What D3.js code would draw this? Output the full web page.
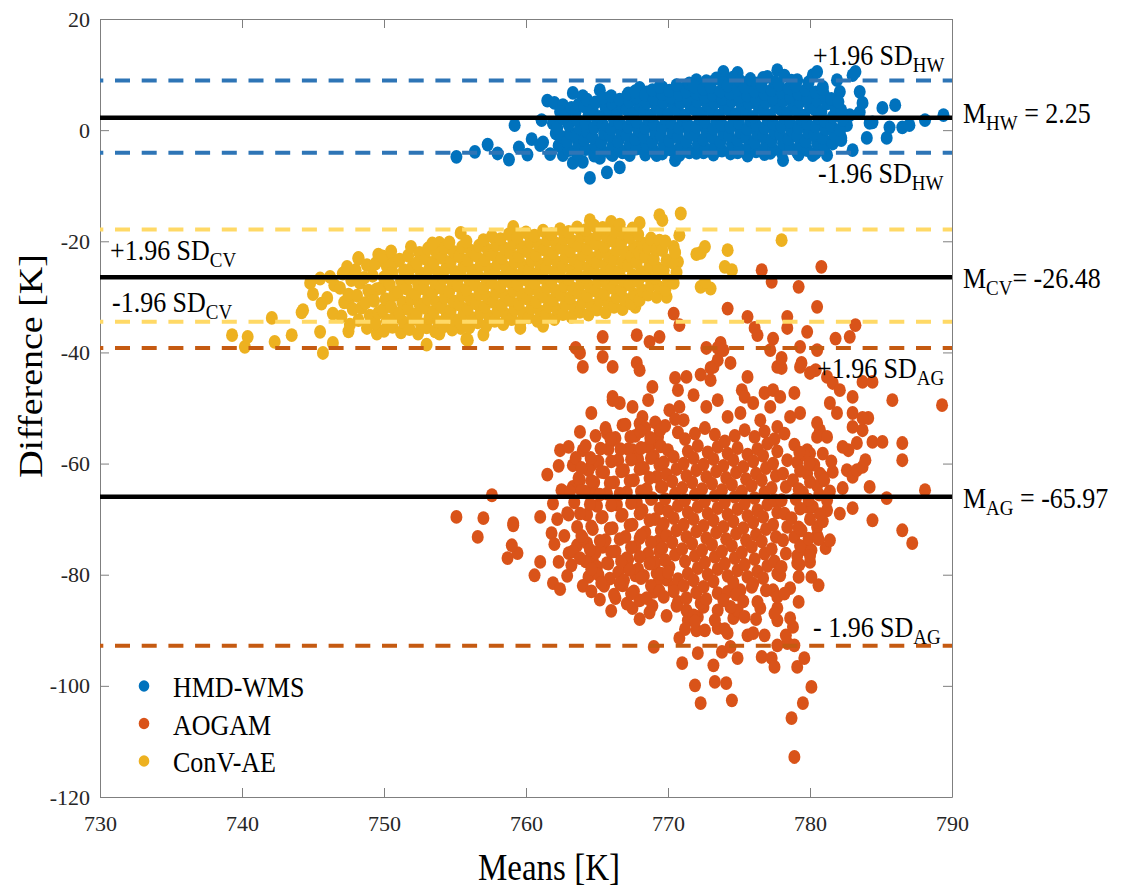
<!DOCTYPE html>
<html>
<head>
<meta charset="utf-8">
<script src="https://cdn.jsdelivr.net/npm/d3@7"></script>
<style>
body { margin: 0; background: #fff; }
</style>
</head>
<body>
<div id="chart"></div>
<script>
// tick values
var xTicks = [730, 740, 750, 760, 770, 780, 790];
var yTicks = [20, 0, -20, -40, -60, -80, -100, -120];

// series, in legend order
var seriesNames = ["HMD-WMS", "AOGAM", "ConV-AE"];
var meanValues = [2.25, -65.97, -26.48];
var upperValues = [8.95, -39.2, -17.9];
var lowerValues = [-4.05, -92.8, -34.5];
var meanLabels = [["M", "HW", " = 2.25"], ["M", "AG", " = -65.97"], ["M", "CV", "= -26.48"]];

// [mean, difference]
var hmdPoints = [
  [755.1,-4.8],[756.4,-3.9],[757.3,-2.6],[758.0,-4.2],[758.8,-5.3],[759.5,-3.1],[759.2,0.9],[760.4,-1.6],[760.1,-4.4],
  [761.1,1.8],[761.0,-2.7],[761.7,-4.3],[761.5,5.3],[762.0,4.9],[762.6,4.5],[763.3,6.7],[764.0,6.1],[765.2,7.2],
  [765.9,5.9],[767.1,6.1],[768.0,7.6],[768.5,6.8],[769.6,7.7],[770.6,7.6],[771.3,7.8],[772.0,9.0],[773.0,8.6],
  [773.9,10.5],[774.4,9.1],[774.9,10.3],[775.8,8.6],[776.7,9.4],[777.7,10.8],[779.1,9.0],[780.2,9.9],[780.5,10.5],
  [780.9,7.8],[781.9,9.0],[782.1,6.9],[783.0,9.9],[783.2,10.5],[783.5,6.9],[783.7,4.9],[783.5,3.2],[782.8,2.7],
  [782.6,0.9],[784.2,1.3],[784.4,1.4],[785.1,4.0],[786.0,4.5],[785.6,0.5],[786.5,0.5],[787.0,0.9],[788.1,1.8],
  [789.4,2.7],[785.4,-1.4],[784.0,-1.4],[782.2,-1.4],[782.1,-0.3],[781.4,5.0],[781.4,-2.2],[781.2,-4.5],[783.0,-3.6],
  [780.2,-4.5],[779.1,-4.0],[778.1,-5.4],[777.2,-4.1],[776.3,-3.6],[774.9,-4.0],[773.7,-3.6],[772.5,-4.0],[771.5,-4.0],
  [770.5,-5.4],[769.2,-4.5],[768.0,-3.2],[767.3,-4.5],[766.8,-4.0],[766.6,-6.7],[766.1,-4.5],[765.7,-7.6],[765.2,-5.0],
  [764.5,-8.6],[764.0,-5.7],[763.3,-5.9],[762.6,-4.5],[761.2,-2.2],[762.1,-0.6],[761.9,1.2],
  [762.3,-2.8],[762.5,-1.2],[762.2,0.4],[762.6,2.1],[762.4,3.3],
  [763.0,-3.6],[762.9,-2.0],[763.1,-0.5],[763.0,1.0],[762.8,2.6],[763.2,4.0],
  [763.6,-4.2],[763.7,-2.6],[763.5,-1.1],[763.8,0.3],[763.6,1.8],[763.5,3.4],[763.7,4.6],
  [764.2,-3.4],[764.1,-1.8],[764.3,-0.2],[764.2,1.3],[764.4,2.7],[764.1,4.3],[764.3,5.5],
  [764.8,-4.6],[764.9,-2.9],[764.7,-1.3],[764.8,0.5],[765.0,2.0],[764.7,3.6],[764.9,5.0],
  [765.4,-3.8],[765.3,-2.2],[765.5,-0.6],[765.4,1.1],[765.2,2.4],[765.6,4.1],[765.4,5.8],
  [766.0,-4.3],[766.1,-2.7],[765.9,-1.0],[766.0,0.2],[766.2,1.8],[765.9,3.2],[766.1,4.7],[766.0,6.1],
  [766.6,-3.6],[766.5,-2.0],[766.7,-0.4],[766.6,1.2],[766.4,2.8],[766.8,4.2],[766.6,5.5],
  [767.2,-4.1],[767.3,-2.5],[767.1,-0.9],[767.2,0.6],[767.4,2.1],[767.1,3.7],[767.3,5.1],[767.2,6.6],
  [767.8,-3.3],[767.7,-1.6],[767.9,0.0],[767.8,1.5],[767.6,3.0],[768.0,4.5],[767.8,5.9],[767.7,7.0],
  [768.4,-4.4],[768.5,-2.8],[768.3,-1.2],[768.4,0.4],[768.6,1.9],[768.3,3.4],[768.5,4.9],[768.4,6.3],
  [769.0,-3.7],[768.9,-2.1],[769.1,-0.5],[769.0,1.1],[768.8,2.6],[769.2,4.1],[769.0,5.6],[768.9,7.2],
  [769.6,-4.2],[769.7,-2.6],[769.5,-1.0],[769.6,0.5],[769.8,2.0],[769.5,3.5],[769.7,5.0],[769.6,6.5],[769.4,7.8],
  [770.2,-3.5],[770.1,-1.9],[770.3,-0.3],[770.2,1.3],[770.0,2.8],[770.4,4.4],[770.2,5.8],[770.1,7.1],
  [770.8,-4.5],[770.9,-2.8],[770.7,-1.2],[770.8,0.4],[771.0,1.9],[770.7,3.5],[770.9,5.0],[770.8,6.4],[770.6,8.1],
  [771.4,-3.6],[771.3,-2.0],[771.5,-0.5],[771.4,1.0],[771.2,2.6],[771.6,4.1],[771.4,5.5],[771.3,7.0],[771.5,8.4],
  [772.0,-4.1],[772.1,-2.5],[771.9,-0.9],[772.0,0.6],[772.2,2.2],[771.9,3.7],[772.1,5.2],[772.0,6.6],[771.8,7.9],
  [772.6,-3.3],[772.5,-1.7],[772.7,-0.1],[772.6,1.5],[772.4,3.0],[772.8,4.5],[772.6,6.0],[772.5,7.4],[772.7,8.8],
  [773.2,-4.4],[773.3,-2.8],[773.1,-1.2],[773.2,0.3],[773.4,1.9],[773.1,3.4],[773.3,4.9],[773.2,6.3],[773.0,7.8],[773.4,9.3],
  [773.8,-3.7],[773.7,-2.1],[773.9,-0.6],[773.8,1.0],[773.6,2.6],[774.0,4.1],[773.8,5.6],[773.7,7.0],[773.9,8.5],
  [774.4,-4.2],[774.5,-2.5],[774.3,-1.0],[774.4,0.6],[774.6,2.1],[774.3,3.6],[774.5,5.2],[774.4,6.6],[774.2,8.0],[774.6,9.5],
  [775.0,-3.4],[774.9,-1.8],[775.1,-0.3],[775.0,1.3],[774.8,2.9],[775.2,4.4],[775.0,5.9],[774.9,7.3],[775.1,8.8],
  [775.6,-4.6],[775.7,-2.9],[775.5,-1.3],[775.6,0.2],[775.8,1.8],[775.5,3.3],[775.7,4.8],[775.6,6.2],[775.4,7.7],[775.8,9.2],
  [776.2,-3.8],[776.1,-2.2],[776.3,-0.7],[776.2,0.9],[776.0,2.4],[776.4,4.0],[776.2,5.5],[776.1,7.0],[776.3,8.4],
  [776.8,-4.3],[776.9,-2.7],[776.7,-1.1],[776.8,0.4],[777.0,2.0],[776.7,3.5],[776.9,5.0],[776.8,6.5],[776.6,7.9],[777.0,9.6],
  [777.4,-3.5],[777.3,-1.9],[777.5,-0.4],[777.4,1.2],[777.2,2.7],[777.6,4.3],[777.4,5.7],[777.3,7.2],[777.5,8.7],
  [778.0,-4.0],[778.1,-2.4],[777.9,-0.8],[778.0,0.7],[778.2,2.3],[777.9,3.8],[778.1,5.3],[778.0,6.8],[777.8,8.2],[778.2,9.8],
  [778.6,-3.2],[778.5,-1.6],[778.7,0.0],[778.6,1.5],[778.4,3.1],[778.8,4.6],[778.6,6.0],[778.5,7.5],[778.7,8.9],
  [779.2,-4.4],[779.3,-2.7],[779.1,-1.1],[779.2,0.4],[779.4,2.0],[779.1,3.5],[779.3,5.1],[779.2,6.5],[779.0,8.0],
  [779.8,-3.6],[779.7,-2.0],[779.9,-0.5],[779.8,1.1],[779.6,2.6],[780.0,4.2],[779.8,5.7],[779.7,7.2],[779.9,8.6],
  [780.4,-4.1],[780.5,-2.4],[780.3,-0.9],[780.4,0.7],[780.6,2.2],[780.3,3.8],[780.5,5.3],[780.4,6.8],
  [781.0,-3.0],[780.9,-1.4],[781.1,0.2],[781.0,1.7],[780.8,3.3],[781.2,4.8],[781.0,6.3],[780.9,7.4],
  [781.6,-2.4],[781.7,-0.8],[781.5,0.8],[781.6,2.4],[781.8,3.9],[781.5,5.6],
  [782.2,-1.8],[782.1,0.1],[782.3,1.9],[782.2,3.6],[782.0,5.1]
];

var aogamPoints = [
  [776.6,-25.2],[777.3,-27.3],[780.8,-24.6],[779.2,-28.2],[774.2,-32.1],[780.5,-31.8],[770.4,-33.0],[770.8,-35.1],
  [775.6,-33.6],[776.1,-35.6],[778.4,-33.6],[778.4,-35.6],[779.8,-36.3],[781.8,-37.5],[783.2,-35.1],[782.8,-37.2],
  [776.3,-36.9],[777.4,-37.5],[773.7,-38.3],[773.5,-39.2],[767.8,-36.9],[768.7,-38.1],[769.4,-37.2],[765.4,-37.2],
  [763.5,-39.2],[763.8,-40.1],[764.0,-42.6],[765.4,-40.8],[766.1,-42.6],[767.8,-41.9],[768.0,-43.2],[768.9,-46.2],
  [766.1,-48.0],[766.6,-49.1],[764.6,-50.9],[767.5,-49.8],[768.2,-51.6],[768.6,-48.6],[770.5,-44.6],[771.3,-44.4],
  [772.3,-44.0],[770.7,-46.8],[771.8,-47.7],[773.0,-45.0],[773.2,-42.6],[773.5,-41.4],[773.9,-39.6],[774.4,-41.9],
  [775.2,-46.8],[775.6,-44.4],[775.4,-48.0],[776.0,-49.1],[776.8,-47.3],[777.4,-46.8],[777.9,-48.0],[778.9,-47.3],
  [777.7,-42.6],[778.0,-42.8],[779.4,-41.9],[780.4,-43.2],[781.2,-44.4],[781.6,-45.5],[782.1,-46.8],[783.0,-48.0],
  [783.7,-45.3],[784.4,-45.3],[785.8,-48.6],[789.3,-49.5],[781.4,-49.1],[781.9,-50.9],[783.0,-50.9],[784.1,-51.8],
  [780.7,-54.0],[780.5,-55.2],[783.7,-54.0],[783.3,-56.3],[784.4,-56.1],[785.1,-56.1],[786.5,-56.3],[786.5,-59.4],
  [782.7,-57.6],[782.6,-61.2],[783.0,-62.4],[784.2,-64.2],[782.3,-64.4],[780.9,-62.4],[785.4,-66.2],[788.1,-64.8],
  [784.4,-70.2],[786.5,-72.0],[787.2,-74.3],[783.0,-68.0],[782.1,-69.0],[783.3,-61.2],[783.7,-60.6],[783.9,-59.4],
  [777.2,-39.6],[778.0,-41.0],[779.3,-39.0],[780.5,-39.6],[779.3,-42.6],[780.0,-43.7],[772.7,-39.2],[773.0,-42.8],
  [783.7,-51.8],[783.0,-53.4],[782.3,-57.0],[781.2,-55.2],[780.5,-52.7],[779.3,-50.9],[780.0,-58.2],[780.9,-58.2],
  [780.7,-61.8],[781.6,-61.5],[781.2,-68.4],[780.5,-71.4],[779.8,-67.8],
  [766.1,-48.6],[766.8,-53.1],[768.0,-52.8],[769.4,-54.0],[770.1,-50.4],[770.8,-49.8],[771.1,-52.2],[772.7,-49.8],
  [773.5,-48.6],[774.2,-51.6],[775.1,-50.9],[776.5,-52.2],[777.2,-49.8],[777.7,-53.4],[778.6,-51.6],[779.8,-57.6],
  [762.4,-57.6],[763.8,-54.3],[764.0,-57.6],[763.3,-60.3],[764.6,-60.3],[765.7,-54.5],[766.1,-55.8],[767.5,-57.6],
  [768.9,-56.3],[757.6,-65.7],[761.9,-67.2],[763.3,-64.2],[763.8,-63.0],[764.7,-64.8],[762.9,-68.9],[761.0,-69.6],
  [759.1,-70.7],[755.1,-69.6],[757.0,-69.8],
  [756.6,-73.2],[758.7,-77.0],[759.4,-76.1],[759.0,-74.7],[759.1,-71.1],[760.6,-80.1],[761.0,-77.7],[761.9,-81.5],
  [762.3,-77.7],[763.2,-78.3],[763.0,-76.1],[763.6,-74.7],[764.3,-74.3],[764.4,-80.4],[764.7,-77.4],[765.0,-78.6],
  [765.7,-77.9],[765.4,-75.0],[765.9,-80.7],[766.3,-84.2],[766.8,-81.9],[767.5,-86.0],[767.2,-78.8],[767.7,-80.1],
  [768.0,-84.6],[767.1,-77.0],[768.0,-73.4],[769.0,-83.1],[769.2,-79.7],[769.1,-77.9],[769.0,-93.0],[769.9,-80.9],
  [770.4,-82.2],[770.1,-78.6],[770.7,-84.9],[770.8,-91.4],[771.3,-86.4],[771.4,-88.2],[771.0,-95.9],[771.9,-99.9],
  [772.3,-103.1],[772.1,-94.1],[772.0,-90.0],[772.1,-87.6],[772.5,-85.8],[773.2,-96.3],[773.3,-99.3],[774.1,-99.5],
  [774.5,-102.6],[773.8,-93.9],[773.5,-89.6],[774.4,-93.0],[774.2,-90.5],[774.9,-95.0],[774.6,-87.8],[774.9,-86.4],
  [775.4,-87.6],[775.6,-90.9],[776.0,-90.5],[776.6,-94.8],[776.8,-90.9],[776.5,-86.0],[777.3,-95.0],[777.5,-96.6],
  [777.7,-92.7],[778.4,-92.3],[778.3,-90.9],[778.9,-92.7],[779.1,-96.6],[778.7,-105.8],[778.9,-112.8],[779.5,-103.1],
  [780.1,-100.2],[779.6,-95.0],[778.8,-89.4],[778.6,-87.8],[777.7,-88.2],[777.7,-86.0],[779.2,-84.9],[780.6,-81.9],
  [780.1,-80.4],[780.0,-77.7],[781.1,-75.2],[781.4,-73.8],[780.5,-72.9],[779.1,-77.9],[779.2,-80.4],[778.6,-82.4],
  [777.9,-80.1],[777.4,-82.8],[777.7,-84.0],[776.3,-84.9],[775.9,-82.2],[775.1,-82.8],[774.4,-85.8],[773.5,-86.4],
  [772.3,-85.1],[771.8,-87.3],[773.5,-83.3],[774.2,-83.1],
  [763.5,-59.0],[763.7,-62.6],[763.4,-67.0],[763.6,-71.4],[763.3,-75.8],
  [764.2,-56.8],[764.4,-61.2],[764.1,-65.0],[764.3,-69.2],[764.0,-73.4],[764.2,-77.6],
  [764.9,-55.0],[765.1,-59.6],[764.8,-63.4],[765.0,-67.6],[764.7,-71.8],[764.9,-76.0],[765.1,-80.0],
  [765.6,-53.6],[765.8,-57.4],[765.5,-61.6],[765.7,-65.4],[765.4,-69.6],[765.6,-73.8],[765.8,-78.0],[765.5,-82.0],
  [766.3,-55.4],[766.5,-59.4],[766.2,-63.4],[766.4,-67.4],[766.1,-71.6],[766.3,-75.8],[766.5,-79.6],[766.2,-83.6],
  [767.0,-53.0],[767.2,-57.4],[766.9,-61.2],[767.1,-65.2],[766.8,-69.2],[767.0,-73.2],[767.2,-77.2],[766.9,-81.0],[767.1,-85.2],
  [767.7,-55.0],[767.9,-59.2],[767.6,-63.0],[767.8,-67.0],[767.5,-71.0],[767.7,-75.0],[767.9,-79.0],[767.6,-83.0],
  [768.4,-53.6],[768.6,-57.0],[768.3,-60.8],[768.5,-64.6],[768.2,-68.4],[768.4,-72.4],[768.6,-76.2],[768.3,-80.2],[768.5,-84.2],
  [769.1,-52.6],[769.3,-55.2],[769.0,-58.6],[769.2,-62.4],[768.9,-66.2],[769.1,-70.0],[769.3,-74.0],[769.0,-77.8],[769.2,-81.8],[768.9,-85.6],
  [761.5,-62.0],[761.8,-72.5],[762.0,-74.5],[762.3,-60.4],[762.5,-64.8],[762.2,-70.0],[762.7,-73.0],[762.4,-82.6],
  [763.0,-57.0],[763.1,-65.0],[763.0,-69.2],[762.9,-80.2],
  [763.9,-60.8],[763.9,-64.9],[763.8,-69.0],[763.9,-73.0],[763.8,-77.0],[764.0,-82.0],
  [764.55,-59.0],[764.6,-63.1],[764.5,-67.3],[764.6,-71.3],[764.5,-75.5],[764.6,-79.0],[764.6,-83.0],
  [765.25,-57.3],[765.3,-61.5],[765.2,-65.6],[765.3,-69.7],[765.2,-73.9],[765.3,-81.5],[765.2,-84.5],
  [765.95,-55.6],[766.0,-59.6],[765.9,-63.5],[766.0,-67.5],[765.9,-71.7],[766.0,-75.9],[766.0,-86.5],
  [766.65,-57.4],[766.7,-61.4],[766.6,-65.4],[766.7,-69.4],[766.6,-73.6],[766.7,-77.6],[766.6,-81.6],
  [767.35,-55.2],[767.4,-59.3],[767.3,-63.1],[767.4,-67.1],[767.3,-71.1],[767.4,-75.1],[767.3,-79.1],[767.4,-83.4],
  [768.05,-54.2],[768.1,-57.2],[768.0,-61.0],[768.1,-65.0],[768.0,-69.0],[768.1,-72.9],[768.0,-76.8],[768.1,-80.6],[768.0,-88.0],
  [768.75,-55.4],[768.8,-59.0],[768.7,-62.6],[768.8,-66.4],[768.7,-70.2],[768.8,-74.2],[768.7,-78.0],[768.8,-82.0],[768.7,-86.8],
  [769.45,-54.0],[769.5,-56.9],[769.4,-60.3],[769.5,-64.2],[769.4,-68.1],[769.5,-72.0],[769.4,-75.8],[769.5,-79.8],[769.4,-82.9],
  [769.8,-53.2],[770.0,-57.6],[769.7,-59.8],[769.9,-62.0],[769.6,-64.2],[769.8,-66.4],[770.0,-68.6],[769.7,-70.8],[769.9,-73.0],[769.6,-75.2],[769.8,-77.4],[770.0,-79.6],[769.7,-84.0],[769.9,-87.4],
  [770.5,-52.0],[770.7,-54.4],[770.4,-58.8],[770.6,-61.0],[770.3,-63.2],[770.5,-65.4],[770.7,-67.6],[770.4,-69.8],[770.6,-72.0],[770.3,-74.2],[770.5,-76.4],[770.7,-80.8],[770.4,-83.0],[770.6,-85.6],
  [771.2,-55.6],[771.4,-57.8],[771.1,-60.0],[771.3,-62.2],[771.0,-64.4],[771.2,-66.6],[771.4,-68.8],[771.1,-71.0],[771.3,-73.2],[771.0,-75.4],[771.2,-77.6],[771.4,-79.8],[771.1,-82.0],[771.3,-84.2],[771.2,-89.8],
  [771.9,-54.6],[772.1,-56.8],[771.8,-59.0],[772.0,-61.2],[771.7,-63.4],[771.9,-65.6],[772.1,-67.8],[771.8,-70.0],[772.0,-72.2],[771.7,-74.4],[771.9,-76.6],[772.1,-78.8],[771.8,-81.0],[772.0,-83.2],[771.9,-88.4],
  [772.6,-53.6],[772.8,-58.0],[772.5,-60.2],[772.7,-62.4],[772.4,-64.6],[772.6,-66.8],[772.8,-69.0],[772.5,-71.2],[772.7,-73.4],[772.4,-75.6],[772.6,-77.8],[772.8,-80.0],[772.5,-82.2],[772.7,-84.4],[772.6,-90.0],
  [773.3,-54.8],[773.5,-57.0],[773.2,-59.2],[773.4,-61.4],[773.1,-63.6],[773.3,-65.8],[773.5,-68.0],[773.2,-70.2],[773.4,-72.4],[773.1,-74.6],[773.3,-76.8],[773.5,-79.0],[773.2,-81.2],[773.3,-88.2],
  [774.0,-56.0],[774.2,-58.2],[773.9,-60.4],[774.1,-62.6],[773.8,-64.8],[774.0,-67.0],[774.2,-69.2],[773.9,-71.4],[774.1,-73.6],[773.8,-75.8],[774.0,-78.0],[774.2,-80.2],[773.9,-84.6],[774.0,-89.8],
  [774.7,-55.0],[774.9,-57.2],[774.6,-59.4],[774.8,-61.6],[774.5,-63.8],[774.7,-66.0],[774.9,-68.2],[774.6,-70.4],[774.8,-72.6],[774.5,-74.8],[774.7,-77.0],[774.9,-79.2],[774.6,-81.4],[774.8,-83.6],
  [775.4,-54.0],[775.6,-58.4],[775.3,-60.6],[775.5,-62.8],[775.2,-65.0],[775.4,-67.2],[775.6,-69.4],[775.3,-71.6],[775.5,-73.8],[775.2,-76.0],[775.4,-78.2],[775.6,-80.4],[775.3,-84.8],
  [776.1,-55.2],[776.3,-57.4],[776.0,-59.6],[776.2,-61.8],[775.9,-64.0],[776.1,-66.2],[776.3,-68.4],[776.0,-70.6],[776.2,-72.8],[775.9,-75.0],[776.1,-77.2],[776.3,-79.4],[776.0,-81.6],[776.2,-88.0],
  [776.8,-54.2],[777.0,-56.4],[776.7,-58.6],[776.9,-60.8],[776.6,-63.0],[776.8,-65.2],[777.0,-67.4],[776.7,-69.6],[776.9,-71.8],[776.6,-74.0],[776.8,-76.2],[777.0,-78.4],[776.7,-80.6],[776.9,-82.8],
  [777.5,-55.6],[777.7,-57.8],[777.4,-60.0],[777.6,-62.2],[777.3,-64.4],[777.5,-66.6],[777.7,-68.8],[777.4,-71.0],[777.6,-73.2],[777.3,-75.4],[777.5,-77.6],[777.7,-79.8],[777.5,-87.0],
  [778.2,-54.6],[778.4,-59.4],[778.1,-61.8],[778.3,-64.2],[778.0,-66.6],[778.2,-69.0],[778.4,-71.4],[778.1,-73.8],[778.3,-76.2],[778.0,-78.6],[778.2,-83.4],
  [778.9,-56.6],[779.1,-59.8],[778.8,-63.0],[779.0,-66.4],[778.7,-69.8],[778.9,-73.2],[779.1,-76.6],
  [779.6,-58.4],[779.8,-61.8],[779.5,-65.2],[779.4,-72.0],[779.6,-75.4],
  [780.3,-60.2],[780.5,-64.0],[780.2,-67.8],[780.1,-75.6],
  [781.0,-63.0],[781.2,-66.6],[780.9,-70.4],
  [779.25,-58.0],[779.3,-61.3],[779.2,-64.6],[779.3,-68.1],[779.2,-71.5],[779.3,-74.8],[779.25,-78.2],
  [779.95,-60.0],[780.0,-63.3],[779.9,-66.5],[780.0,-70.0],[779.9,-73.5],[780.0,-76.6],
  [780.65,-65.6],[780.7,-69.1],[780.6,-73.6],[781.4,-65.0],[781.5,-59.6]
];

var convPoints = [
  [739.3,-36.9],[740.2,-39.0],[740.4,-37.2],[742.1,-33.8],[742.3,-38.1],[743.5,-36.9],[744.3,-32.4],[744.8,-27.5],
  [745.5,-36.3],[745.7,-40.1],[746.2,-26.4],[746.4,-38.3],[747.4,-25.2],[747.5,-36.2],[748.2,-23.0],[749.5,-36.6],
  [749.6,-23.4],[750.2,-23.0],[753.0,-38.6],[753.9,-36.6],[755.4,-18.5],[755.4,-35.6],[755.8,-37.6],[753.9,-20.3],
  [759.1,-17.4],[759.6,-35.6],[764.5,-16.2],[766.0,-16.5],[768.0,-16.7],[769.4,-15.3],[769.6,-16.2],[770.9,-15.0],
  [770.8,-18.9],[772.3,-22.1],[772.6,-21.0],[772.3,-28.2],[773.0,-28.5],[770.4,-21.0],[770.7,-23.7],[769.9,-30.0],
  [764.7,-31.8],[767.7,-31.8],[778.0,-19.8],[774.0,-24.6],[774.2,-21.6],[774.5,-25.2],[772.6,-27.3],[772.0,-22.3],
  [770.1,-27.5],[755.9,-37.8],[745.6,-31.2],[746.4,-33.0],[747.5,-31.0],[744.2,-32.8],[745.5,-26.7],[746.5,-27.9],
  [745.0,-29.5],[746.0,-30.2],[761.2,-35.2],[757.0,-36.8],
  [747.0,-33.5],[747.2,-31.0],[746.9,-28.4],[747.1,-25.8],
  [747.6,-35.0],[747.8,-32.2],[747.5,-29.6],[747.7,-27.0],[747.4,-24.6],
  [748.2,-34.2],[748.4,-32.0],[748.1,-29.8],[748.3,-27.5],[748.0,-25.2],[748.2,-23.1],
  [748.8,-35.6],[749.0,-33.4],[748.7,-31.1],[748.9,-28.9],[748.6,-26.6],[748.8,-24.3],
  [749.4,-34.8],[749.6,-32.9],[749.3,-30.7],[749.5,-28.6],[749.2,-26.2],[749.4,-24.0],[749.6,-22.4],
  [750.0,-36.1],[750.2,-34.2],[749.9,-32.4],[750.1,-30.4],[749.8,-28.4],[750.0,-26.5],[750.2,-24.5],[749.9,-22.7],
  [750.6,-35.4],[750.8,-33.6],[750.5,-31.8],[750.7,-29.7],[750.4,-27.8],[750.6,-25.6],[750.8,-23.6],[750.5,-21.8],
  [751.2,-36.4],[751.4,-34.6],[751.1,-32.9],[751.3,-31.0],[751.0,-29.1],[751.2,-27.1],[751.4,-25.2],[751.1,-23.3],
  [751.8,-35.8],[752.0,-34.0],[751.7,-32.2],[751.9,-30.4],[751.6,-28.5],[751.8,-26.6],[752.0,-24.6],[751.7,-22.6],[751.9,-21.0],
  [752.4,-36.6],[752.6,-34.9],[752.3,-33.1],[752.5,-31.3],[752.2,-29.5],[752.4,-27.7],[752.6,-25.8],[752.3,-24.0],[752.5,-22.1],
  [753.0,-35.5],[753.2,-33.8],[752.9,-32.0],[753.1,-30.3],[752.8,-28.5],[753.0,-26.7],[753.2,-24.9],[752.9,-23.1],[753.1,-21.3],
  [753.6,-36.2],[753.8,-34.5],[753.5,-32.7],[753.7,-31.0],[753.4,-29.2],[753.6,-27.4],[753.8,-25.6],[753.5,-23.8],[753.7,-22.0],[753.4,-20.4],
  [754.2,-35.3],[754.4,-33.6],[754.1,-31.9],[754.3,-30.1],[754.0,-28.4],[754.2,-26.6],[754.4,-24.8],[754.1,-23.0],[754.3,-21.2],
  [754.8,-35.9],[755.0,-34.2],[754.7,-32.5],[754.9,-30.8],[754.6,-29.0],[754.8,-27.3],[755.0,-25.5],[754.7,-23.7],[754.9,-21.9],[754.6,-20.2],
  [755.4,-34.8],[755.6,-33.1],[755.3,-31.4],[755.5,-29.7],[755.2,-28.0],[755.4,-26.2],[755.6,-24.5],[755.3,-22.7],[755.5,-21.0],
  [756.0,-35.5],[756.2,-33.8],[755.9,-32.1],[756.1,-30.4],[755.8,-28.7],[756.0,-26.9],[756.2,-25.2],[755.9,-23.4],[756.1,-21.7],[755.8,-20.0],
  [756.6,-34.6],[756.8,-32.9],[756.5,-31.2],[756.7,-29.5],[756.4,-27.8],[756.6,-26.1],[756.8,-24.3],[756.5,-22.6],[756.7,-20.8],
  [757.2,-35.2],[757.4,-33.5],[757.1,-31.8],[757.3,-30.1],[757.0,-28.4],[757.2,-26.7],[757.4,-25.0],[757.1,-23.3],[757.3,-21.5],[757.0,-19.8],
  [757.8,-34.3],[758.0,-32.6],[757.7,-30.9],[757.9,-29.2],[757.6,-27.5],[757.8,-25.8],[758.0,-24.1],[757.7,-22.4],[757.9,-20.7],[757.6,-19.1],
  [758.4,-34.9],[758.6,-33.2],[758.3,-31.5],[758.5,-29.8],[758.2,-28.1],[758.4,-26.4],[758.6,-24.7],[758.3,-23.0],[758.5,-21.3],[758.2,-19.6],
  [759.0,-34.0],[759.2,-32.3],[758.9,-30.6],[759.1,-28.9],[758.8,-27.2],[759.0,-25.5],[759.2,-23.8],[758.9,-22.1],[759.1,-20.4],[758.8,-18.7],
  [759.6,-34.6],[759.8,-32.9],[759.5,-31.2],[759.7,-29.5],[759.4,-27.8],[759.6,-26.1],[759.8,-24.4],[759.5,-22.7],[759.7,-21.0],[759.4,-19.3],
  [760.2,-33.7],[760.4,-32.0],[760.1,-30.3],[760.3,-28.6],[760.0,-26.9],[760.2,-25.2],[760.4,-23.5],[760.1,-21.8],[760.3,-20.1],[760.0,-18.4],
  [760.8,-34.3],[761.0,-32.6],[760.7,-30.9],[760.9,-29.2],[760.6,-27.5],[760.8,-25.8],[761.0,-24.1],[760.7,-22.4],[760.9,-20.7],[760.6,-19.0],
  [761.4,-33.4],[761.6,-31.7],[761.3,-30.0],[761.5,-28.3],[761.2,-26.6],[761.4,-24.9],[761.6,-23.2],[761.3,-21.5],[761.5,-19.8],[761.2,-18.1],
  [762.0,-34.0],[762.2,-32.3],[761.9,-30.6],[762.1,-28.9],[761.8,-27.2],[762.0,-25.5],[762.2,-23.8],[761.9,-22.1],[762.1,-20.4],[761.8,-18.7],
  [762.6,-33.1],[762.8,-31.4],[762.5,-29.7],[762.7,-28.0],[762.4,-26.3],[762.6,-24.6],[762.8,-22.9],[762.5,-21.2],[762.7,-19.5],[762.4,-17.8],
  [763.2,-33.6],[763.4,-31.9],[763.1,-30.2],[763.3,-28.5],[763.0,-26.8],[763.2,-25.1],[763.4,-23.4],[763.1,-21.7],[763.3,-20.0],[763.0,-18.3],
  [763.8,-32.7],[764.0,-31.0],[763.7,-29.3],[763.9,-27.6],[763.6,-25.9],[763.8,-24.2],[764.0,-22.5],[763.7,-20.8],[763.9,-19.1],[763.6,-17.5],
  [764.4,-33.2],[764.6,-31.5],[764.3,-29.8],[764.5,-28.1],[764.2,-26.4],[764.4,-24.7],[764.6,-23.0],[764.3,-21.3],[764.5,-19.6],[764.2,-18.0],
  [765.0,-32.3],[765.2,-30.6],[764.9,-28.9],[765.1,-27.2],[764.8,-25.5],[765.0,-23.8],[765.2,-22.1],[764.9,-20.4],[765.1,-18.7],[764.8,-17.2],
  [765.6,-32.8],[765.8,-31.1],[765.5,-29.4],[765.7,-27.7],[765.4,-26.0],[765.6,-24.3],[765.8,-22.6],[765.5,-20.9],[765.7,-19.2],[765.4,-17.6],
  [766.2,-31.8],[766.4,-30.1],[766.1,-28.4],[766.3,-26.7],[766.0,-25.0],[766.2,-23.3],[766.4,-21.6],[766.1,-19.9],[766.3,-18.2],
  [766.8,-32.2],[767.0,-30.5],[766.7,-28.8],[766.9,-27.1],[766.6,-25.4],[766.8,-23.7],[767.0,-22.0],[766.7,-20.3],[766.9,-18.6],[766.6,-17.0],
  [767.4,-31.2],[767.6,-29.5],[767.3,-27.8],[767.5,-26.1],[767.2,-24.4],[767.4,-22.7],[767.6,-21.0],[767.3,-19.3],[767.5,-17.7],
  [768.0,-30.6],[768.2,-28.9],[767.9,-27.2],[768.1,-25.5],[767.8,-23.8],[768.0,-22.1],[768.2,-20.4],[767.9,-18.8],
  [768.6,-29.6],[768.8,-27.9],[768.5,-26.2],[768.7,-24.5],[768.4,-22.8],[768.6,-21.1],[768.8,-19.5],
  [769.2,-30.0],[769.4,-28.3],[769.1,-26.6],[769.3,-24.9],[769.0,-23.2],[769.2,-21.5],[769.4,-19.9],
  [769.8,-28.8],[770.0,-27.0],[769.7,-25.2],[769.9,-23.4],[769.6,-21.6],[769.8,-20.0],
  [770.4,-27.5],[770.6,-25.6],[770.3,-23.8],[770.5,-22.0]
];

var seriesPoints = [hmdPoints, aogamPoints, convPoints];
var seriesColors = ["#0072BD", "#D95319", "#EDB120"];
var limitColors = ["#2E75B6", "#C55A11", "#FFD966"];

var width = 1127;
var height = 892;
var margin = {top: 19, right: 175, bottom: 95, left: 100};
var serif = "'Liberation Serif', 'Times New Roman', serif";

var svg = d3.select("#chart")
    .append("svg")
    .attr("width", width)
    .attr("height", height)
    .style("background", "#fff");

var x = d3.scaleLinear()
    .domain([730, 790])
    .range([margin.left, width - margin.right]);

var y = d3.scaleLinear()
    .domain([-120, 20])
    .range([height - margin.bottom, margin.top]);

function styleAxis(g) {
    g.select(".domain").attr("stroke", "#7f7f7f");
    g.selectAll(".tick line").attr("stroke", "#7f7f7f");
    g.selectAll(".tick text")
        .attr("fill", "#262626")
        .attr("font-family", serif)
        .attr("font-size", 22);
}

// box axes, ticks pointing in
svg.append("g")
    .attr("transform", "translate(0," + y(-120) + ")")
    .call(d3.axisBottom(x).tickValues(xTicks).tickSizeInner(-9).tickSizeOuter(0)
        .tickPadding(18).tickFormat(function (d) { return String(d); }))
    .call(styleAxis);

svg.append("g")
    .attr("transform", "translate(" + x(730) + ",0)")
    .call(d3.axisLeft(y).tickValues(yTicks).tickSizeInner(-9).tickSizeOuter(0)
        .tickPadding(10).tickFormat(function (d) { return String(d); }))
    .call(styleAxis);

svg.append("g")
    .attr("transform", "translate(0," + y(20) + ")")
    .call(d3.axisTop(x).tickValues(xTicks).tickSizeInner(-9).tickSizeOuter(0).tickFormat(""))
    .call(styleAxis);

svg.append("g")
    .attr("transform", "translate(" + x(790) + ",0)")
    .call(d3.axisRight(y).tickValues(yTicks).tickSizeInner(-9).tickSizeOuter(0).tickFormat(""))
    .call(styleAxis);

// scatter points (the original picture is stretched a little vertically, so dots are slightly oval)
seriesPoints.forEach(function (pts, i) {
    svg.append("g")
        .selectAll("ellipse")
        .data(pts)
        .enter()
        .append("ellipse")
        .attr("cx", function (d) { return x(d[0]); })
        .attr("cy", function (d) { return y(d[1]); })
        .attr("rx", 6)
        .attr("ry", 6.9)
        .attr("fill", seriesColors[i]);
});

// limits of agreement (dashed) and mean lines
var lines = svg.append("g");
seriesNames.forEach(function (name, i) {
    [upperValues[i], lowerValues[i]].forEach(function (v) {
        lines.append("line")
            .attr("x1", x(730)).attr("x2", x(790))
            .attr("y1", y(v)).attr("y2", y(v))
            .attr("stroke", limitColors[i])
            .attr("stroke-width", 4)
            .attr("stroke-dasharray", "15,11.7")
            .attr("stroke-dashoffset", 11.7);
    });
});
meanValues.forEach(function (v) {
    lines.append("line")
        .attr("x1", x(730)).attr("x2", x(790))
        .attr("y1", y(v)).attr("y2", y(v))
        .attr("stroke", "#000")
        .attr("stroke-width", 4.5);
});

// text with subscript, stretched a bit vertically like the original
function addLabel(px, py, parts, size) {
    var t = svg.append("text")
        .attr("transform", "translate(" + px + "," + py + ") scale(1,1.15)")
        .attr("font-family", serif)
        .attr("font-size", size)
        .attr("fill", "#000");
    var shift = 0;
    parts.forEach(function (p, k) {
        var isSub = (k % 2 === 1);
        var span = t.append("tspan").text(p);
        if (isSub) {
            span.attr("font-size", size * 0.73).attr("dy", 6);
            shift = 6;
        } else if (shift) {
            span.attr("dy", -shift);
            shift = 0;
        }
    });
}

addLabel(813, 65, ["+1.96 SD", "HW"], 26);
addLabel(818, 183, ["-1.96 SD", "HW"], 26);
addLabel(110, 260, ["+1.96 SD", "CV"], 26);
addLabel(112, 312, ["-1.96 SD", "CV"], 26);
addLabel(817, 378, ["+1.96 SD", "AG"], 26);
addLabel(813, 637, ["- 1.96 SD", "AG"], 26);

var meanLabelY = [123, 508, 288];
meanLabels.forEach(function (parts, i) {
    addLabel(963, meanLabelY[i], parts, 26);
});

// legend
var legend = svg.append("g");
seriesNames.forEach(function (name, i) {
    var ly = 686 + i * 37.5;
    legend.append("ellipse")
        .attr("cx", 144)
        .attr("cy", ly)
        .attr("rx", 5.3)
        .attr("ry", 5.8)
        .attr("fill", seriesColors[i]);
    legend.append("text")
        .attr("transform", "translate(173," + (ly + 11) + ") scale(1,1.15)")
        .attr("font-family", serif)
        .attr("font-size", 26)
        .attr("fill", "#000")
        .text(name);
});

// axis titles
svg.append("text")
    .attr("transform", "translate(549,880) scale(1,1.15)")
    .attr("text-anchor", "middle")
    .attr("font-family", serif)
    .attr("font-size", 33)
    .attr("fill", "#000")
    .text("Means [K]");

svg.append("text")
    .attr("transform", "translate(42,366) rotate(-90) scale(1.15,1)")
    .attr("text-anchor", "middle")
    .attr("font-family", serif)
    .attr("font-size", 33)
    .attr("fill", "#000")
    .text("Difference [K]");
</script>
</body>
</html>
